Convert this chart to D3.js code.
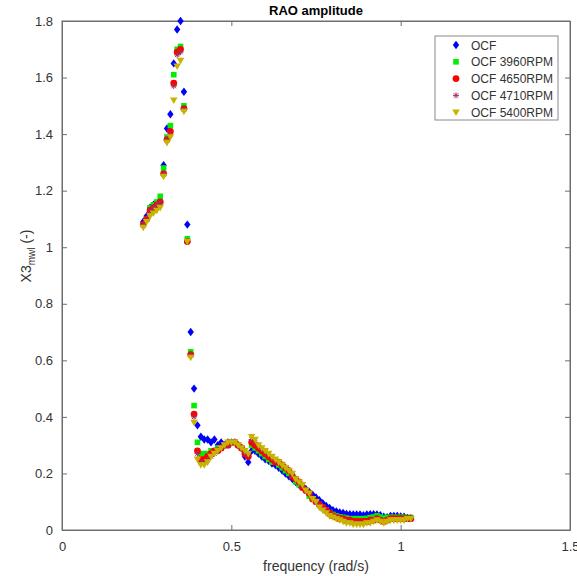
<!DOCTYPE html>
<html>
<head>
<meta charset="utf-8">
<script src="https://cdn.jsdelivr.net/npm/d3@7"></script>
<style>
body { margin: 0; background: #fff; }
text { font-family: "Liberation Sans", Arial, sans-serif; }
</style>
</head>
<body>
<svg id="chart" width="577" height="576"></svg>
<script>
// frequencies (rad/s), shared by every series
var freq = [0.24,0.25,0.26,0.27,0.28,0.29,0.30,0.31,0.32,0.33,0.34,0.35,0.36,0.37,0.38,0.39,
            0.40,0.41,0.42,0.43,0.44,0.45,0.46,0.47,0.48,0.49,0.50,0.51,0.52,0.53,0.54,0.55,
            0.56,0.57,0.58,0.59,0.60,0.61,0.62,0.63,0.64,0.65,0.66,0.67,0.68,0.69,0.70,0.71,
            0.72,0.73,0.74,0.75,0.76,0.77,0.78,0.79,0.80,0.81,0.82,0.83,0.84,0.85,0.86,0.87,
            0.88,0.89,0.90,0.91,0.92,0.93,0.94,0.95,0.96,0.97,0.98,0.99,1.00,1.01,1.02,1.03];

var ocf = [1.09,1.11,1.14,1.15,1.15,1.16,1.29,1.42,1.47,1.65,1.77,1.80,1.55,1.08,0.70,0.50,
           0.37,0.33,0.32,0.32,0.31,0.32,0.30,0.31,0.30,0.31,0.31,0.31,0.30,0.29,0.26,0.24,
           0.28,0.28,0.27,0.26,0.25,0.245,0.235,0.23,0.22,0.21,0.20,0.19,0.18,0.17,0.16,0.155,
           0.145,0.135,0.125,0.115,0.105,0.095,0.085,0.078,0.07,0.066,0.062,0.06,0.057,0.056,0.055,0.055,
           0.055,0.052,0.055,0.056,0.056,0.055,0.052,0.047,0.045,0.05,0.05,0.05,0.048,0.047,0.043,0.042];

var rpm3960 = [1.08,1.10,1.14,1.15,1.16,1.18,1.28,1.39,1.43,1.61,1.70,1.71,1.50,1.03,0.63,0.44,
               0.31,0.27,0.27,0.27,0.28,0.28,0.29,0.29,0.30,0.30,0.31,0.31,0.30,0.29,0.27,0.26,
               0.30,0.29,0.28,0.27,0.26,0.25,0.24,0.24,0.23,0.22,0.21,0.20,0.19,0.17,0.16,0.15,
               0.14,0.12,0.11,0.10,0.09,0.08,0.07,0.062,0.055,0.05,0.046,0.045,0.042,0.04,0.04,0.04,
               0.04,0.04,0.041,0.044,0.046,0.05,0.046,0.042,0.045,0.045,0.045,0.045,0.045,0.045,0.044,0.044];

var rpm4650 = [1.08,1.10,1.13,1.14,1.15,1.16,1.26,1.38,1.41,1.58,1.69,1.70,1.49,1.02,0.62,0.41,
               0.28,0.25,0.25,0.26,0.27,0.28,0.28,0.29,0.30,0.30,0.31,0.31,0.30,0.29,0.27,0.26,
               0.31,0.30,0.29,0.28,0.27,0.26,0.25,0.24,0.24,0.23,0.22,0.21,0.19,0.18,0.17,0.15,
               0.14,0.13,0.11,0.10,0.09,0.08,0.07,0.06,0.05,0.045,0.04,0.04,0.035,0.035,0.03,0.03,
               0.03,0.03,0.03,0.035,0.035,0.04,0.035,0.03,0.035,0.04,0.04,0.04,0.04,0.04,0.04,0.04];

var rpm4710 = [1.08,1.10,1.13,1.14,1.15,1.16,1.26,1.38,1.40,1.57,1.68,1.69,1.49,1.02,0.62,0.40,
               0.27,0.24,0.24,0.25,0.26,0.27,0.28,0.29,0.30,0.30,0.31,0.31,0.30,0.29,0.27,0.265,
               0.32,0.31,0.30,0.285,0.275,0.265,0.255,0.245,0.24,0.23,0.22,0.21,0.195,0.18,0.17,0.155,
               0.14,0.13,0.11,0.10,0.085,0.075,0.065,0.055,0.048,0.043,0.038,0.035,0.03,0.03,0.025,0.025,
               0.025,0.025,0.028,0.03,0.032,0.038,0.033,0.028,0.032,0.037,0.038,0.038,0.038,0.038,0.04,0.04];

var rpm5400 = [1.07,1.09,1.11,1.12,1.13,1.14,1.25,1.37,1.39,1.52,1.64,1.66,1.48,1.02,0.61,0.38,
               0.25,0.23,0.23,0.24,0.26,0.27,0.28,0.29,0.30,0.31,0.31,0.31,0.30,0.29,0.28,0.27,
               0.33,0.32,0.30,0.29,0.28,0.27,0.26,0.25,0.24,0.23,0.22,0.21,0.20,0.18,0.17,0.16,
               0.14,0.13,0.11,0.10,0.08,0.07,0.06,0.05,0.045,0.04,0.035,0.03,0.025,0.025,0.02,0.02,
               0.02,0.02,0.025,0.025,0.03,0.035,0.03,0.025,0.03,0.035,0.035,0.035,0.035,0.035,0.04,0.04];

var seriesNames = ["OCF", "OCF 3960RPM", "OCF 4650RPM", "OCF 4710RPM", "OCF 5400RPM"];
var seriesVals = [ocf, rpm3960, rpm4650, rpm4710, rpm5400];
var xTicks = [0, 0.5, 1, 1.5];
var yTicks = [0, 0.2, 0.4, 0.6, 0.8, 1, 1.2, 1.4, 1.6, 1.8];

var colors = ["#0000ff", "#00ee00", "#ff0000", "#a0305a", "#c8b400"];

// custom marker shapes
var diamond = { draw: function(c, s){ c.moveTo(0,-4.2); c.lineTo(3.2,0); c.lineTo(0,4.2); c.lineTo(-3.2,0); c.closePath(); } };
var square = { draw: function(c, s){ c.rect(-2.8,-2.8,5.6,5.6); } };
var circle = { draw: function(c, s){ c.moveTo(3.4,0); c.arc(0,0,3.4,0,2*Math.PI); } };
var star = { draw: function(c, s){
    c.moveTo(-3,0); c.lineTo(3,0);
    c.moveTo(0,-3); c.lineTo(0,3);
    c.moveTo(-2.2,-2.2); c.lineTo(2.2,2.2);
    c.moveTo(-2.2,2.2); c.lineTo(2.2,-2.2); } };
var triDown = { draw: function(c, s){ c.moveTo(-3.8,-2.8); c.lineTo(3.8,-2.8); c.lineTo(0,3.8); c.closePath(); } };
var shapes = [diamond, square, circle, star, triDown];

// plot area (window.top is read-only, so no "top" here)
var plotL = 62, plotR = 570, plotT = 21, plotB = 530;
var svg = d3.select("#chart");

var x = d3.scaleLinear().domain([0, 1.5]).range([plotL, plotR]);
var y = d3.scaleLinear().domain([0, 1.8]).range([plotB, plotT]);

var axisCol = "#6e6e6e";
var txtCol = "#333";

// axes box
svg.append("rect")
   .attr("x", plotL).attr("y", plotT)
   .attr("width", plotR - plotL).attr("height", plotB - plotT)
   .attr("fill", "#fff").attr("stroke", axisCol).attr("stroke-width", 1);

//bottom + left axes with inward ticks
svg.append("g").attr("transform", "translate(0," + plotB + ")")
   .call(d3.axisBottom(x).tickValues(xTicks).tickSizeInner(-5).tickSizeOuter(0).tickPadding(12)
   .tickFormat(function(d){ return d3.format("")(d); }));
svg.append("g").attr("transform", "translate(" + plotL + ",0)")
   .call(d3.axisLeft(y).tickValues(yTicks).tickSizeInner(-5).tickSizeOuter(0).tickPadding(9)
   .tickFormat(function(d){ return d3.format("")(d); }));
// mirrored ticks on top and right
svg.append("g").attr("transform", "translate(0," + plotT + ")")
   .call(d3.axisTop(x).tickValues(xTicks).tickSizeInner(-5).tickSizeOuter(0).tickFormat(""));
svg.append("g").attr("transform", "translate(" + plotR + ",0)")
   .call(d3.axisRight(y).tickValues(yTicks).tickSizeInner(-5).tickSizeOuter(0).tickFormat(""));

svg.selectAll(".domain").attr("stroke", axisCol);
svg.selectAll(".tick line").attr("stroke", axisCol);
svg.selectAll(".tick text").attr("fill", txtCol).attr("font-size", 13)
   .attr("font-family", "Liberation Sans, Arial, sans-serif");

// points
seriesVals.forEach(function(vals, si){
    var sym = d3.symbol().type(shapes[si]);
    var g = svg.append("g");
    g.selectAll("path")
     .data(vals)
     .enter()
     .append("path")
     .attr("d", sym)
     .attr("transform", function(d, i){ return "translate(" + x(freq[i]) + "," + y(d) + ")"; })
     .attr("fill", si == 3 ? "none" : colors[si])
     .attr("stroke", si == 3 ? colors[si] : "none")
     .attr("stroke-width", 1);
});

// title and labels
svg.append("text").attr("x", (plotL + plotR) / 2).attr("y", 15)
   .attr("text-anchor", "middle").attr("font-size", 13).attr("font-weight", "bold")
   .attr("fill", "#000").text("RAO amplitude");

svg.append("text").attr("x", (plotL + plotR) / 2).attr("y", 571)
   .attr("text-anchor", "middle").attr("font-size", 14).attr("fill", txtCol)
   .text("frequency (rad/s)");

var yl = svg.append("text")
   .attr("transform", "translate(31,256) rotate(-90)")
   .attr("text-anchor", "middle").attr("font-size", 14).attr("fill", txtCol);
yl.append("tspan").text("X3");
yl.append("tspan").attr("font-size", 10).attr("dy", 4).text("mwl");
yl.append("tspan").attr("dy", -4).text(" (-)");

// legend
var lg = svg.append("g");
lg.append("rect").attr("x", 435).attr("y", 36).attr("width", 123).attr("height", 84)
  .attr("fill", "#fff").attr("stroke", "#8a8a8a").attr("stroke-width", 1);
seriesNames.forEach(function(name, i){
    var ly = 45 + i * 16.8;
    lg.append("path").attr("d", d3.symbol().type(shapes[i])())
      .attr("transform", "translate(456," + ly + ")")
      .attr("fill", i == 3 ? "none" : colors[i])
      .attr("stroke", i == 3 ? colors[i] : "none");
    lg.append("text").attr("x", 471).attr("y", ly + 4.5)
      .attr("font-size", 12).attr("fill", txtCol).text(name);
});
</script>
</body>
</html>
